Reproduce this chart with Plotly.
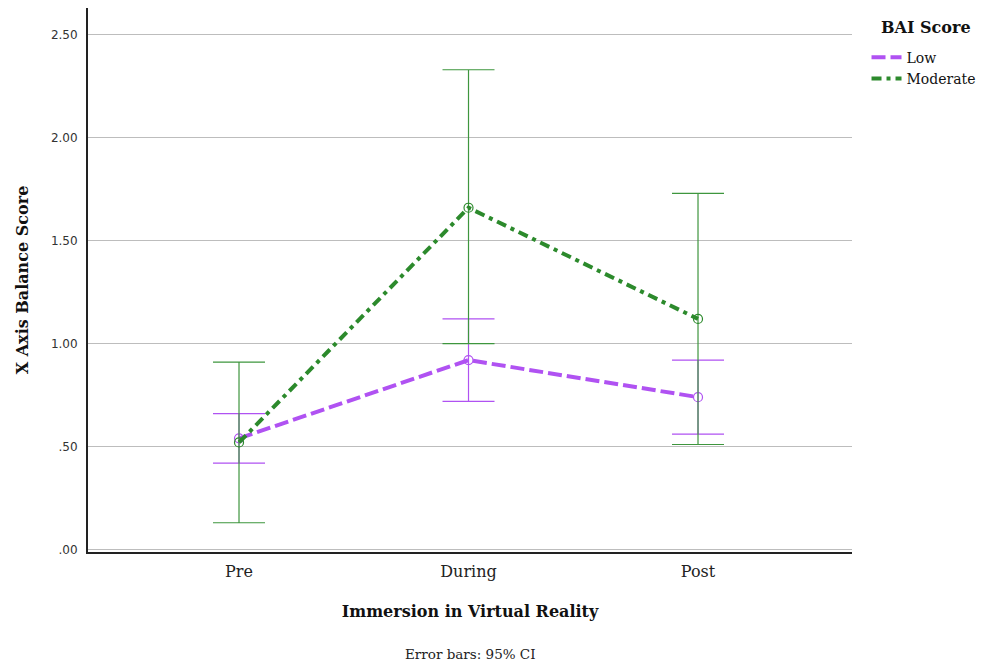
import plotly.graph_objects as go

# Immersion phases and group means with 95% CI bounds
phases = ["Pre", "During", "Post"]

low_mean = [0.54, 0.92, 0.74]
low_upper = [0.66, 1.12, 0.92]
low_lower = [0.42, 0.72, 0.56]

mod_mean = [0.52, 1.66, 1.12]
mod_upper = [0.91, 2.33, 1.73]
mod_lower = [0.13, 1.00, 0.51]

y_tickvals = [0.0, 0.5, 1.0, 1.5, 2.0, 2.5]
y_ticktext = [".00", ".50", "1.00", "1.50", "2.00", "2.50"]

PURPLE = "#B052F2"
GREEN = "#2C8A2C"
GREEN_BAR = "#3E963E"
SERIF = "DejaVu Serif"

LOW_DASH = "14px,5px"
MOD_DASH = "10px,5px,4px,5px"

fig = go.Figure()


def add_series(name, mean, upper, lower, color, bar_color, dash):
    plus = [u - m for u, m in zip(upper, mean)]
    minus = [m - l for m, l in zip(mean, lower)]
    fig.add_trace(go.Scatter(
        x=phases, y=mean, name=name, mode="lines+markers", showlegend=False,
        line=dict(color=color, width=4, dash=dash),
        marker=dict(symbol="circle-open", size=9, color=color, line=dict(width=1.2)),
        error_y=dict(type="data", array=plus, arrayminus=minus, symmetric=False,
                     color=bar_color, thickness=1.2, width=26),
    ))
    # line-only legend entry
    fig.add_trace(go.Scatter(
        x=[None], y=[None], name=name, mode="lines",
        line=dict(color=color, width=4, dash=dash),
    ))


add_series("Low", low_mean, low_upper, low_lower, PURPLE, PURPLE, LOW_DASH)
add_series("Moderate", mod_mean, mod_upper, mod_lower, GREEN, GREEN_BAR, MOD_DASH)

fig.update_layout(
    width=982, height=664,
    margin=dict(l=88, r=130, t=8, b=112, autoexpand=False),
    paper_bgcolor="white", plot_bgcolor="white",
    font=dict(family=SERIF, color="#1a1a1a"),
    showlegend=True,
    legend=dict(
        font=dict(family=SERIF, size=14, color="#111"),
        x=1.019, xanchor="left", y=0.938, yanchor="top",
        bgcolor="rgba(0,0,0,0)", tracegroupgap=0, itemwidth=30,
    ),
    xaxis=dict(
        type="category", range=[-0.658, 2.671],
        showgrid=False, zeroline=False,
        showline=True, linecolor="#222", linewidth=2,
        ticks="", ticklabelstandoff=4,
        tickfont=dict(family=SERIF, size=16, color="#222"),
        title=dict(text="<b>Immersion in Virtual Reality</b>",
                   font=dict(family=SERIF, size=16, color="#111"), standoff=26),
    ),
    yaxis=dict(
        range=[-0.012, 2.63],
        tickvals=y_tickvals, ticktext=y_ticktext,
        showgrid=True, gridcolor="#BDBDBD", gridwidth=1,
        zeroline=False,
        showline=True, linecolor="#222", linewidth=2,
        ticks="", ticklabelstandoff=6,
        tickfont=dict(family="DejaVu Sans", size=12, color="#333"),
        title=dict(text="<b>X Axis Balance Score</b>",
                   font=dict(family=SERIF, size=16, color="#111"), standoff=18),
    ),
    annotations=[
        dict(text="<b>BAI Score</b>", xref="paper", yref="paper",
             x=1.0 + 74 / 764, y=1.0 - 20 / 544, xanchor="center", yanchor="middle",
             showarrow=False, font=dict(family=SERIF, size=16, color="#111")),
        dict(text="Error bars: 95% CI", xref="paper", yref="paper",
             x=0.5, y=-0.188, xanchor="center", yanchor="middle", showarrow=False,
             font=dict(family=SERIF, size=13.5, color="#222")),
    ],
)

fig.write_html("out.html")
